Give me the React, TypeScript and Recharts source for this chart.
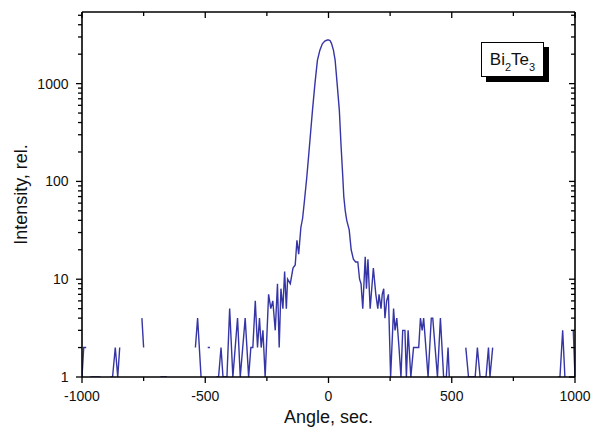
import React from 'react';
import { LineChart, Line, XAxis, YAxis, Label } from 'recharts';

const angles: number[] = [
  -1000, -993, -983, -976, -966, -946, -925, -918, -884, -876, -865, -855, -847, -840,
  -757, -750, -744, -682, -668, -655, -649, -540, -531, -517, -508, -490, -481, -474,
  -455, -446, -436, -428, -412, -401, -388, -369, -358, -338, -324, -315, -307, -297,
  -288, -280, -273, -266, -257, -243, -234, -226, -216, -207, -200, -193, -185, -178,
  -171, -166, -155, -144, -135, -128, -121, -112, -105, -98, -88, -80, -72, -65, -55,
  -45, -35, -25, -15, -5, 0, 6, 12, 20, 27, 35, 44, 51, 58, 62, 68, 74, 84, 92, 101,
  110, 119, 126, 132, 139, 149, 154, 160, 169, 182, 192, 200, 205, 213, 218, 224, 229,
  236, 243, 252, 264, 270, 277, 286, 294, 301, 310, 316, 323, 334, 345, 356, 366, 373,
  380, 386, 404, 417, 423, 442, 454, 467, 478, 485, 490, 497, 557, 568, 581, 595, 604,
  615, 627, 639, 649, 655, 666, 672, 932, 939, 950, 959, 966, 993, 1000,
];

const intensity: (number | null)[] = [
  1, 2, 2, null, 1, 1, 1, null, 1, 1, 2, 1, 2, null,
  4, 2, null, 1, 1, 1, null, 2, 4, 1, null, 2, 2, null,
  1, 1, 2, 1, 1, 5, 1, 4, 1, 4, 1, 2, 2, 6,
  2, 4, 2, 3, 1, 7, 5, 6, 3, 9, 2, 8, 5, 12,
  5, 10, 9, 13, 14, 25, 18, 34, 42, 62, 111, 190, 330, 533, 1000,
  1730, 2200, 2550, 2720, 2790, 2800, 2760, 2580, 2200, 1730, 1000, 533, 230, 111, 70, 50, 40, 32, 20, 16,
  15, 15, 10, 9, 5, 17, 8, 16, 5, 13, 7, 5, 7, 5, 7, 8, 4,
  6, 7, 1, 5, 3, 4, 2, 1, 3, 3, 1, 3, 1, 2, 2, 2, 4,
  3, 4, 1, 4, 4, 1, 4, 1, 1, 2, 1, null, 2, 1, 1, 1, 2,
  1, 1, 1, 2, 1, 2, null, 1, 1, 3, 1, null, 3, 1,
];

const xTicks = [-1000, -750, -500, -250, 0, 250, 500, 750, 1000];
const xLabelTicks = [-1000, -500, 0, 500, 1000];
const yTicks = [
  1, 2, 3, 4, 5, 6, 7, 8, 9,
  10, 20, 30, 40, 50, 60, 70, 80, 90,
  100, 200, 300, 400, 500, 600, 700, 800, 900,
  1000, 2000, 3000, 4000, 5000,
];
const yLabelTicks = [1, 10, 100, 1000];

const data = angles.map((a, i) => ({ angle: a, intensity: intensity[i] }));

const FONT = '"Liberation Sans", Arial, sans-serif';
const MAJOR = 6;
const MINOR = 4;

const BottomTick = (props: any) => {
  const { x, y, payload } = props;
  const v = payload.value;
  const major = xLabelTicks.includes(v);
  return (
    <g>
      <line x1={x} x2={x} y1={y} y2={y + (major ? MAJOR : MINOR)} stroke="#000" strokeWidth={1.3} />
      {major && (
        <text x={x} y={y + 24} textAnchor="middle" fontSize={14} fontFamily={FONT} fill="#111">
          {v}
        </text>
      )}
    </g>
  );
};

const TopTick = (props: any) => {
  const { x, y, payload } = props;
  const major = xLabelTicks.includes(payload.value);
  return <line x1={x} x2={x} y1={y} y2={y + (major ? MAJOR : MINOR)} stroke="#000" strokeWidth={1.3} />;
};

const LeftTick = (props: any) => {
  const { x, y, payload } = props;
  const v = payload.value;
  const major = yLabelTicks.includes(v);
  return (
    <g>
      <line x1={x - (major ? MAJOR : MINOR)} x2={x} y1={y} y2={y} stroke="#000" strokeWidth={1.3} />
      {major && (
        <text x={x - 13.5} y={y + 5} textAnchor="end" fontSize={14} fontFamily={FONT} fill="#111">
          {v}
        </text>
      )}
    </g>
  );
};

const RightTick = (props: any) => {
  const { x, y, payload } = props;
  const major = yLabelTicks.includes(payload.value);
  return <line x1={x - (major ? MAJOR : MINOR)} x2={x} y1={y} y2={y} stroke="#000" strokeWidth={1.3} />;
};

const XTitle = (props: any) => {
  const vb = props.viewBox || {};
  return (
    <text x={vb.x + vb.width / 2} y={vb.y + 46} textAnchor="middle" fontSize={18} fontFamily={FONT} fill="#111">
      Angle, sec.
    </text>
  );
};

const YTitle = (props: any) => {
  const vb = props.viewBox || {};
  const cx = 26.5;
  const cy = vb.y + vb.height / 2;
  return (
    <text x={cx} y={cy} transform={`rotate(-90 ${cx} ${cy})`} textAnchor="middle" fontSize={18} fontFamily={FONT} fill="#111">
      Intensity, rel.
    </text>
  );
};

export default function App() {
  return (
    <div style={{ position: 'absolute', left: 0, top: 0, width: 592, height: 428, background: '#fff' }}>
      <LineChart width={592} height={428} data={data} margin={{ top: 0, right: 0, bottom: 0, left: 0 }}>
        <XAxis
          xAxisId="bottom"
          dataKey="angle"
          type="number"
          domain={[-1000, 1000]}
          ticks={xTicks}
          interval={0}
          height={51}
          tickSize={0}
          tickMargin={0}
          tickLine={false}
          axisLine={{ stroke: '#000', strokeWidth: 1.6 }}
          tick={<BottomTick />}
          allowDataOverflow
        >
          <Label content={<XTitle />} />
        </XAxis>
        <XAxis
          xAxisId="top"
          orientation="top"
          dataKey="angle"
          type="number"
          domain={[-1000, 1000]}
          ticks={xTicks}
          interval={0}
          height={12}
          tickSize={0}
          tickMargin={0}
          tickLine={false}
          axisLine={{ stroke: '#000', strokeWidth: 1.6 }}
          tick={<TopTick />}
          allowDataOverflow
        />
        <YAxis
          yAxisId="left"
          scale="log"
          domain={[1, 5400]}
          ticks={yTicks}
          interval={0}
          width={82}
          tickSize={0}
          tickMargin={0}
          tickLine={false}
          axisLine={{ stroke: '#000', strokeWidth: 1.6 }}
          tick={<LeftTick />}
          allowDataOverflow
        >
          <Label content={<YTitle />} />
        </YAxis>
        <YAxis
          yAxisId="right"
          orientation="right"
          scale="log"
          domain={[1, 5400]}
          ticks={yTicks}
          interval={0}
          width={17}
          tickSize={0}
          tickMargin={0}
          tickLine={false}
          axisLine={{ stroke: '#000', strokeWidth: 1.6 }}
          tick={<RightTick />}
          allowDataOverflow
        />
        <Line
          xAxisId="top"
          yAxisId="right"
          dataKey="intensity"
          stroke="none"
          dot={false}
          activeDot={false}
          isAnimationActive={false}
        />
        <Line
          xAxisId="bottom"
          yAxisId="left"
          type="linear"
          dataKey="intensity"
          stroke="#3535a5"
          strokeWidth={1.4}
          dot={false}
          activeDot={false}
          connectNulls={false}
          isAnimationActive={false}
        />
      </LineChart>
      <div
        style={{
          position: 'absolute',
          left: 481,
          top: 42,
          width: 63,
          height: 35,
          boxSizing: 'border-box',
          border: '1px solid #000',
          background: '#fff',
          boxShadow: '5px 5px 0 #000',
          fontFamily: FONT,
          fontSize: 17,
          color: '#111',
          display: 'flex',
          alignItems: 'center',
          justifyContent: 'center',
          lineHeight: 1,
        }}
      >
        <span>
          Bi<span style={{ fontSize: 11, position: 'relative', top: 6 }}>2</span>Te
          <span style={{ fontSize: 11, position: 'relative', top: 6 }}>3</span>
        </span>
      </div>
    </div>
  );
}
